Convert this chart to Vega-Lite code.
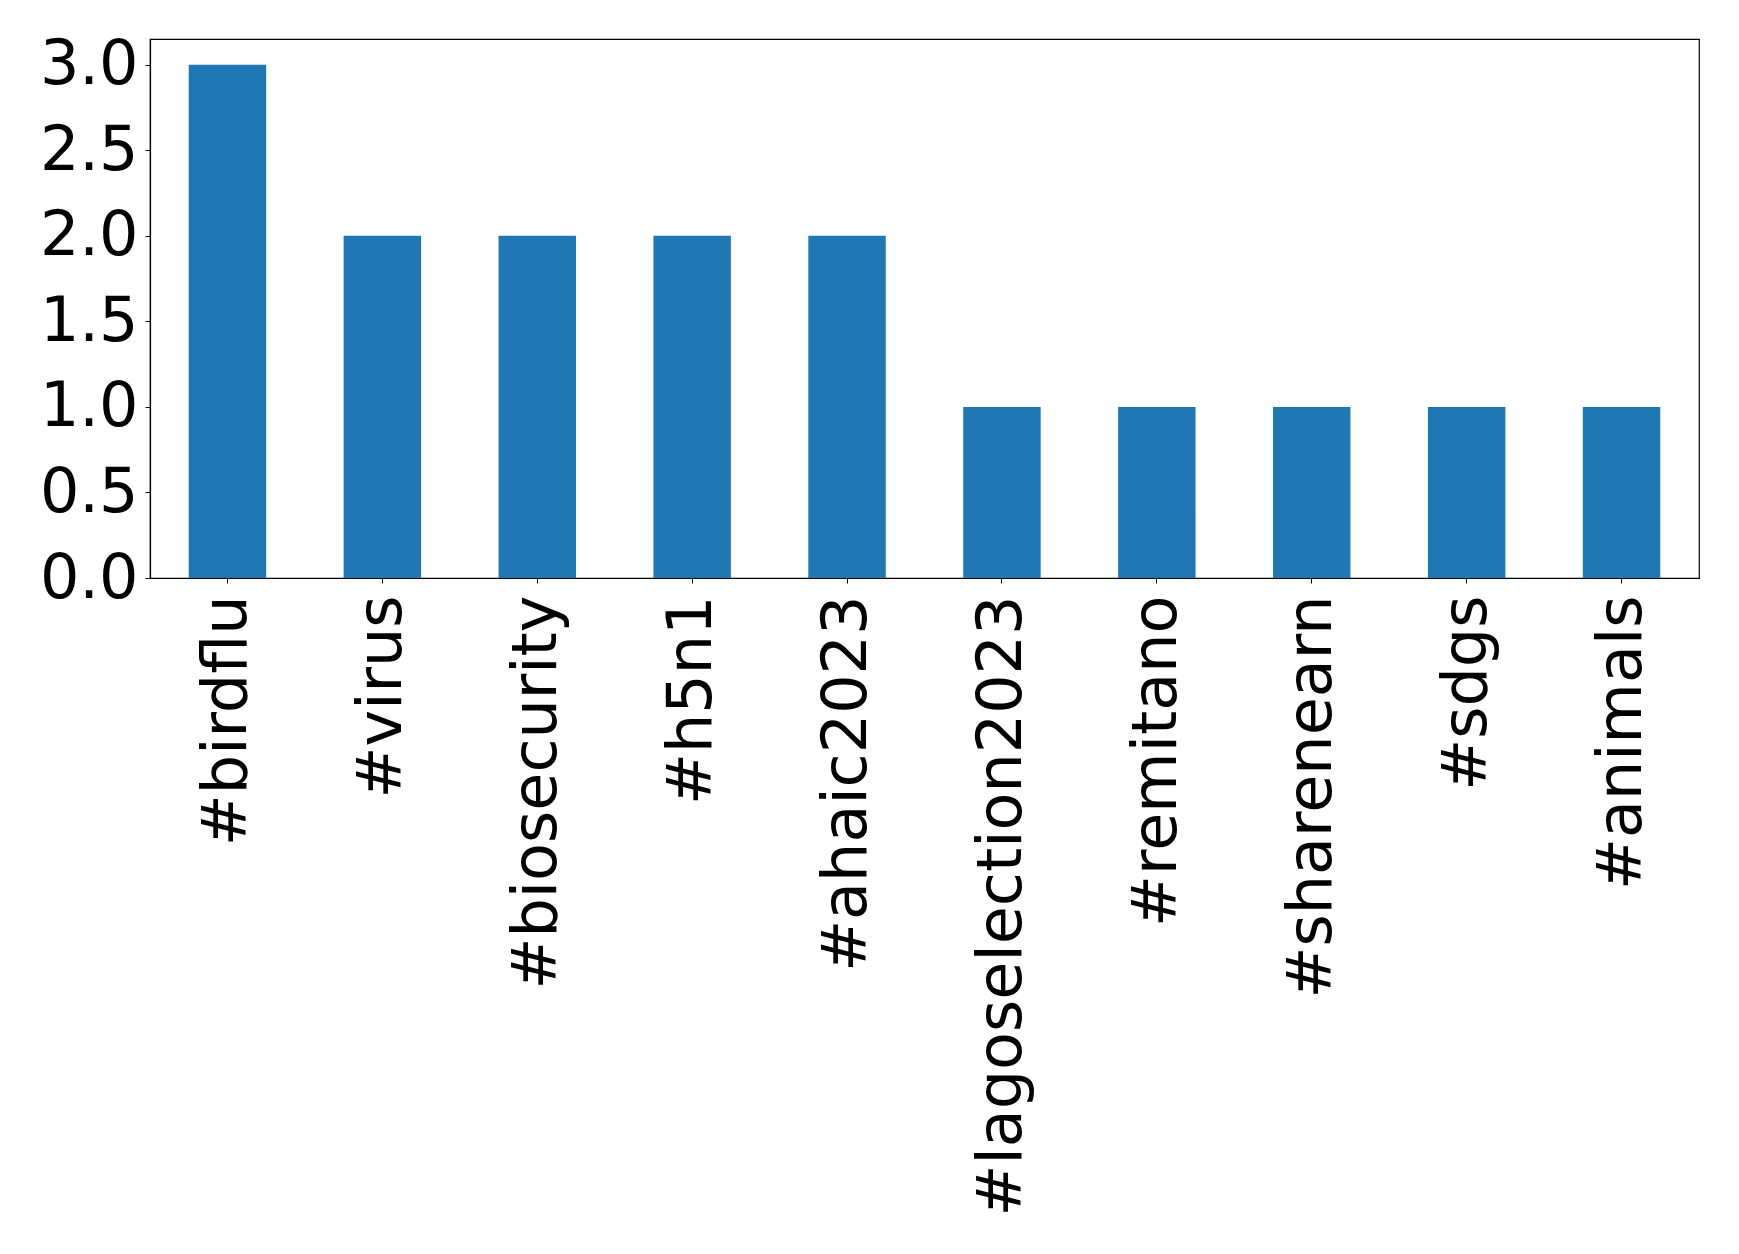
{
  "$schema": "https://vega.github.io/schema/vega-lite/v6.json",
  "width": 1549,
  "height": 539,
  "autosize": {"type": "none"},
  "padding": {"left": 150, "top": 39, "right": 40, "bottom": 676},
  "background": "white",
  "config": {
    "view": {"stroke": "black", "strokeWidth": 1.2},
    "font": "DejaVu Sans"
  },
  "data": {
    "values": [
      {"hashtag": "#birdflu", "count": 3},
      {"hashtag": "#virus", "count": 2},
      {"hashtag": "#biosecurity", "count": 2},
      {"hashtag": "#h5n1", "count": 2},
      {"hashtag": "#ahaic2023", "count": 2},
      {"hashtag": "#lagoselection2023", "count": 1},
      {"hashtag": "#remitano", "count": 1},
      {"hashtag": "#sharenearn", "count": 1},
      {"hashtag": "#sdgs", "count": 1},
      {"hashtag": "#animals", "count": 1}
    ]
  },
  "mark": {"type": "bar", "color": "#1f77b4"},
  "encoding": {
    "x": {
      "field": "hashtag",
      "type": "nominal",
      "sort": null,
      "scale": {"paddingInner": 0.5, "paddingOuter": 0.25},
      "axis": {
        "title": null,
        "labelAngle": -90,
        "labelFont": "DejaVu Sans",
        "labelFontSize": 62,
        "labelColor": "black",
        "labelPadding": 12,
        "tickColor": "black",
        "tickSize": 5,
        "domainColor": "black",
        "domainWidth": 1.2,
        "labelLimit": 1000
      }
    },
    "y": {
      "field": "count",
      "type": "quantitative",
      "scale": {"domain": [0, 3.15], "nice": false},
      "axis": {
        "title": null,
        "values": [0, 0.5, 1, 1.5, 2, 2.5, 3],
        "format": ".1f",
        "grid": false,
        "labelFont": "DejaVu Sans",
        "labelFontSize": 62,
        "labelColor": "black",
        "labelPadding": 7,
        "tickColor": "black",
        "tickSize": 5,
        "domainColor": "black",
        "domainWidth": 1.2
      }
    }
  }
}
